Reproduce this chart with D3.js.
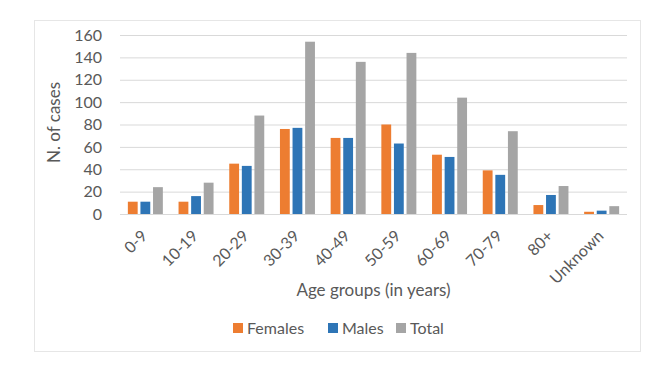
<!DOCTYPE html>
<html>
<head>
<meta charset="utf-8">
<script src="https://cdn.jsdelivr.net/npm/d3@7"></script>
<style>
body { margin: 0; background: #fff; }
text { font-family: Lato, "Open Sans", sans-serif; fill: #595959; }
</style>
</head>
<body>
<div id="chart"></div>
<script>
var ageGroups = ["0-9", "10-19", "20-29", "30-39", "40-49", "50-59", "60-69", "70-79", "80+", "Unknown"];
var females = [11, 11, 45, 76, 68, 80, 53, 39, 8, 2];
var males = [11, 16, 43, 77, 68, 63, 51, 35, 17, 3];
var total = [24, 28, 88, 154, 136, 144, 104, 74, 25, 7];
var seriesNames = ["Females", "Males", "Total"];
var colors = ["#ED7D31", "#2E75B6", "#A5A5A5"];
var yTicks = [0, 20, 40, 60, 80, 100, 120, 140, 160];

var svgWidth = 669, svgHeight = 371;
var margin = {top: 35, right: 42, bottom: 157, left: 120};
var width = svgWidth - margin.left - margin.right;
var height = svgHeight - margin.top - margin.bottom;

var series = [females, males, total];

var svg = d3.select("#chart").append("svg")
    .attr("width", svgWidth)
    .attr("height", svgHeight);

// chart border
svg.append("rect")
   .attr("x", 34.5).attr("y", 20.5)
   .attr("width", 606).attr("height", 331)
   .attr("fill", "none")
   .attr("stroke", "#e6e6e6");

var chartGroup = svg.append("g")
    .attr("transform", `translate(${margin.left}, ${margin.top})`);

var xscale = d3.scaleBand().domain(ageGroups).range([0, width]);
var yscale = d3.scaleLinear().domain([0, 160]).range([height, 0]);
var inner = d3.scaleBand().domain(seriesNames).range([0, 35]).paddingInner(0.22);

// gridlines
chartGroup.append("g")
    .call(d3.axisLeft(yscale).tickValues(yTicks).tickSize(-width).tickFormat(""))
    .call(g => g.select(".domain").remove())
    .selectAll("line").attr("stroke", "#d9d9d9");

// y labels
chartGroup.append("g")
    .call(d3.axisLeft(yscale).tickValues(yTicks).tickSize(0).tickPadding(18))
    .call(g => g.select(".domain").remove())
    .selectAll("text")
    .attr("font-size", "16px")
    .attr("fill", "#595959");

// bars
series.forEach(function(vals, si) {
    chartGroup.selectAll(".bar" + si)
        .data(vals)
        .enter()
        .append("rect")
        .attr("x", (d, i) => xscale(ageGroups[i]) + xscale.bandwidth() / 2 - 17.5 + inner(seriesNames[si]))
        .attr("y", d => yscale(d))
        .attr("width", inner.bandwidth())
        .attr("height", d => height - yscale(d))
        .attr("fill", colors[si]);
});

// x axis line
chartGroup.append("line")
    .attr("x1", 0).attr("x2", width)
    .attr("y1", height + 0.5).attr("y2", height + 0.5)
    .attr("stroke", "#d9d9d9");

// x labels
var xAxis = chartGroup.append("g")
    .attr("transform", `translate(0,${height})`)
    .call(d3.axisBottom(xscale).tickSize(0).tickPadding(0));
xAxis.select(".domain").remove();
xAxis.selectAll("text")
    .attr("font-size", "16px")
    .attr("fill", "#595959")
    .attr("text-anchor", "end")
    .attr("dy", null)
    .attr("transform", "translate(3,23) rotate(-45)");

chartGroup.append("text")
    .attr("x", width / 2)
    .attr("y", height + 82)
    .attr("text-anchor", "middle")
    .attr("font-size", "17px")
    .text("Age groups (in years)");

chartGroup.append("text")
    .attr("transform", "rotate(-90)")
    .attr("x", -height / 2 + 2)
    .attr("y", -60)
    .attr("text-anchor", "middle")
    .attr("font-size", "17px")
    .text("N. of cases");

// legend
var legendX = [233, 328, 396];
var legend = svg.append("g");
seriesNames.forEach(function(name, i) {
    legend.append("rect")
        .attr("x", legendX[i]).attr("y", 323)
        .attr("width", 10).attr("height", 10)
        .attr("fill", colors[i]);
    legend.append("text")
        .attr("x", legendX[i] + 14).attr("y", 334)
        .attr("font-size", "16px")
        .text(name);
});
</script>
</body>
</html>
